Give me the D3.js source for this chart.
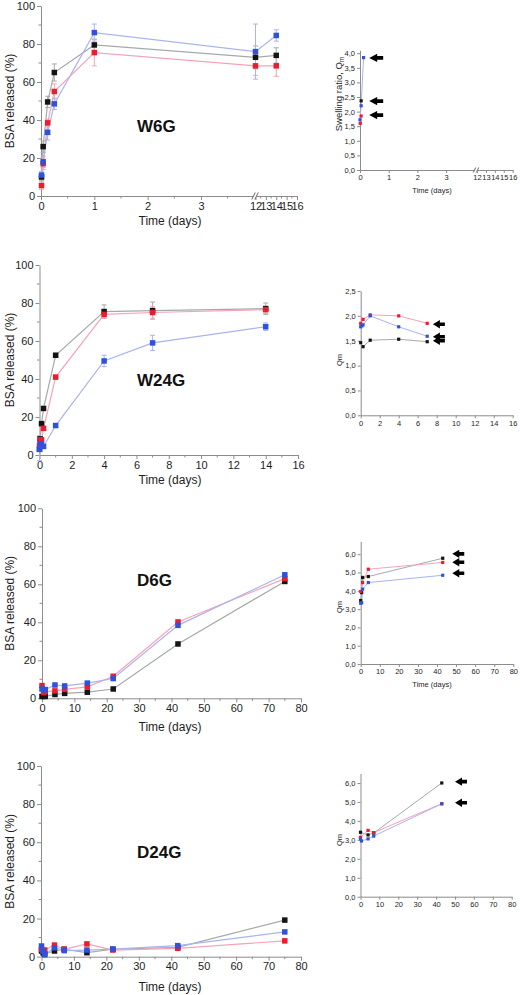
<!DOCTYPE html>
<html><head><meta charset="utf-8">
<script src="https://cdn.jsdelivr.net/npm/d3@7"></script>
<style>body{margin:0;background:#fff}svg{display:block}</style>
</head><body><svg id="c" width="520" height="995"></svg>
<script>
// ---------- DATA ----------
const seriesNames = ["black", "red", "blue"];
const markColors = ["#141414", "#ec1c2e", "#2f52de"];
const lineColors = ["#a3aba7", "#f7a3b6", "#aab3f0"];

const releaseTicks = [0, 20, 40, 60, 80, 100];
const releaseMinor = [10, 30, 50, 70, 90];

// W6G release
const w6gTime = [0.01, 0.04, 0.125, 0.25, 1, 12, 14];
const w6gBlack = [10, 26, 49.5, 65, 79.5, 73, 74];
const w6gRed = [5.5, 17, 38.5, 55, 75.5, 68.5, 68.5];
const w6gBlue = [11, 18, 33.5, 48.5, 86, 76, 84.5];
const w6gBlackErr = [2, 3, 3, 4.5, 3, 6, 4];
const w6gRedErr = [2, 3, 2, 4, 7, 5, 5.5];
const w6gBlueErr = [2, 3, 4, 3, 4.5, 14.5, 3];
const w6gTicksA = [0, 1, 2, 3];
const w6gTicksB = [12, 13, 14, 15, 16];

// W24G release
const w24gTime = [0, 0.04, 0.125, 0.25, 1, 4, 7, 14];
const w24gBlack = [3, 8.5, 16.5, 24.5, 52.5, 75.5, 76, 77];
const w24gRed = [5, 8, 8, 14, 41, 74, 75, 76.5];
const w24gBlue = [3, 6, 5.5, 4.5, 15.5, 49.5, 59, 67.5];
const w24gBlackErr = [0, 0, 0, 0, 1, 3.5, 4.5, 3];
const w24gRedErr = [0, 0, 0, 0, 1, 2, 3, 2];
const w24gBlueErr = [6, 0, 0, 0, 1, 3, 4, 2];
const w24gTicks = [0, 2, 4, 6, 8, 10, 12, 14, 16];

// D6G release
const d6gTime = [0, 0.5, 1, 4, 7, 14, 22, 42, 75];
const d6gBlack = [1, 1, 1, 2, 2.6, 3.2, 4.9, 28.6, 61.5];
const d6gRed = [6.7, 3, 3.5, 3.9, 4.7, 6, 11.6, 40.2, 63];
const d6gBlue = [4.9, 4.5, 4.6, 7, 6.5, 8, 10.4, 38.4, 65];

// D24G release
const d24gTime = [0, 0.5, 1, 4, 7, 14, 22, 42, 75];
const d24gBlack = [3, 2, 1.5, 3, 3.9, 2.1, 3.9, 4.9, 19.2];
const d24gRed = [4, 3, 3.5, 6.1, 3.9, 6.7, 3.5, 4.4, 8.3];
const d24gBlue = [5.6, 3, 1, 4.7, 3.2, 3.5, 4, 5.8, 13];
const longTicks = [0, 10, 20, 30, 40, 50, 60, 70, 80];

// Swelling insets
const q1BlackT = [0.04], q1Black = [2.37];
const q1RedT = [0.01, 0.04], q1Red = [1.6, 1.85];
const q1BlueT = [0, 0.04, 0.125], q1Blue = [1.72, 2.2, 3.85];
const q1ArrowT = [0.32, 0.32, 0.32], q1ArrowV = [3.84, 2.36, 1.88];
const q1TicksY = [0, 0.5, 1, 1.5, 2, 2.5, 3, 3.5, 4];

const q2BlackT = [0, 0.25, 1, 4, 7], q2Black = [1.46, 1.38, 1.51, 1.53, 1.48];
const q2RedT = [0, 0.25, 1, 4, 7], q2Red = [1.85, 1.93, 2.02, 2.0, 1.85];
const q2BlueT = [0, 0.125, 0.25, 1, 4, 7], q2Blue = [1.78, 1.8, 1.82, 2.0, 1.78, 1.59];
const q2ArrowT = [7.6, 7.6, 7.6], q2ArrowV = [1.83, 1.58, 1.5];
const q2TicksY = [0, 0.5, 1, 1.5, 2, 2.5];

const q3BlackT = [0, 0.5, 1, 4, 43], q3Black = [3.47, 3.9, 4.73, 4.78, 5.78];
const q3RedT = [0, 1, 4, 43], q3Red = [3.96, 4.45, 5.18, 5.55];
const q3BlueT = [0, 0.5, 1, 4, 43], q3Blue = [3.32, 3.35, 4.09, 4.45, 4.85];
const q3ArrowT = [48, 48, 48], q3ArrowV = [6.02, 5.56, 4.96];

const q4BlackT = [0, 4, 7, 43], q4Black = [3.4, 3.26, 3.36, 6.0];
const q4RedT = [0, 4, 7, 43], q4Red = [3.13, 3.5, 3.38, 4.91];
const q4BlueT = [0, 0.5, 4, 7, 43], q4Blue = [3.06, 2.94, 3.05, 3.2, 4.9];
const q4ArrowT = [50, 50], q4ArrowV = [6.07, 4.96];
const q34TicksY = [0, 1, 2, 3, 4, 5, 6];

// ---------- DRAWING ----------
const FONT = "'Liberation Sans', Arial, sans-serif";
const axisColor = "#8c8c8c";
const textColor = "#1e1e1e";
const svg = d3.select("#c");
const commaFmt = d => d3.format(".1f")(d).replace(".", ",");

function styleAxis(sel, fs) {
  sel.attr("font-family", FONT).attr("font-size", fs);
  sel.select(".domain").attr("stroke", axisColor).attr("stroke-width", 1);
  sel.selectAll(".tick line").attr("stroke", axisColor);
  sel.selectAll(".tick text").attr("fill", textColor);
}

function buildSeries(times, vals, errs) {
  return times.map((t, i) => ({ t, v: vals[i], e: errs ? errs[i] : 0 }));
}

function drawSeries(g, x, y, list, opt) {
  const line = d3.line().x(d => x(d.t)).y(d => y(d.v));
  list.forEach((s, i) => {
    g.append("path").datum(s).attr("d", line).attr("fill", "none")
      .attr("stroke", lineColors[i]).attr("stroke-width", opt.lw);
  });
  list.forEach((s, i) => {
    const eb = s.filter(d => d.e > 0);
    const ge = g.append("g").attr("stroke", lineColors[i]).attr("stroke-width", 1);
    ge.selectAll("line.v").data(eb).join("line").attr("class", "v")
      .attr("x1", d => x(d.t)).attr("x2", d => x(d.t))
      .attr("y1", d => y(d.v - d.e)).attr("y2", d => y(d.v + d.e));
    ge.selectAll("line.t").data(eb).join("line").attr("class", "t")
      .attr("x1", d => x(d.t) - 2.5).attr("x2", d => x(d.t) + 2.5)
      .attr("y1", d => y(d.v + d.e)).attr("y2", d => y(d.v + d.e));
    ge.selectAll("line.b").data(eb).join("line").attr("class", "b")
      .attr("x1", d => x(d.t) - 2.5).attr("x2", d => x(d.t) + 2.5)
      .attr("y1", d => y(d.v - d.e)).attr("y2", d => y(d.v - d.e));
  });
  list.forEach((s, i) => {
    g.append("g").selectAll("rect").data(s).join("rect")
      .attr("x", d => x(d.t) - opt.ms / 2).attr("y", d => y(d.v) - opt.ms / 2)
      .attr("width", opt.ms).attr("height", opt.ms).attr("fill", markColors[i]);
  });
}

function drawBreak(g, bx, by, h) {
  g.append("rect").attr("x", bx - 1.5).attr("y", by - 2).attr("width", 3).attr("height", 4).attr("fill", "#fff");
  [-1.5, 1.5].forEach(dx => {
    g.append("line").attr("x1", bx + dx - h * 0.5).attr("y1", by + h).attr("x2", bx + dx + h * 0.5).attr("y2", by - h)
      .attr("stroke", "#555").attr("stroke-width", 0.9);
  });
}

function drawMain(c) {
  const g = svg.append("g");
  const y = d3.scaleLinear().domain([0, 100]).range([c.y0, c.y1]);
  const ya = g.append("g").attr("transform", `translate(${c.left},0)`)
    .call(d3.axisLeft(y).tickValues(releaseTicks).tickSize(4).tickSizeOuter(0).tickPadding(2));
  styleAxis(ya, 11);
  g.append("g").selectAll("line").data(releaseMinor).join("line")
    .attr("x1", c.left - 2.5).attr("x2", c.left).attr("y1", d => y(d)).attr("y2", d => y(d))
    .attr("stroke", axisColor);
  c.segs.forEach(s => {
    const xa = g.append("g").attr("transform", `translate(0,${c.y0})`)
      .call(d3.axisBottom(s.scale).tickValues(s.ticks).tickSize(4).tickSizeOuter(0).tickPadding(2).tickFormat(d3.format("d")));
    styleAxis(xa, 11);
    g.append("g").selectAll("line").data(s.minor).join("line")
      .attr("x1", d => s.scale(d)).attr("x2", d => s.scale(d)).attr("y1", c.y0).attr("y2", c.y0 + 2.5)
      .attr("stroke", axisColor);
  });
  if (c.breakX) drawBreak(g, c.breakX, c.y0, 3.5);
  g.append("text").attr("transform", `translate(13.5,${(c.y0 + c.y1) / 2}) rotate(-90)`)
    .attr("text-anchor", "middle").attr("font-family", FONT).attr("font-size", 12).attr("fill", textColor)
    .text("BSA released (%)");
  g.append("text").attr("x", 170).attr("y", c.y0 + c.titleDy).attr("text-anchor", "middle")
    .attr("font-family", FONT).attr("font-size", 12).attr("fill", textColor).text("Time (days)");
  g.append("text").attr("x", 137).attr("y", c.labelY).attr("font-family", FONT).attr("font-weight", "bold")
    .attr("font-size", 17).attr("fill", "#111").text(c.label);
  drawSeries(g, c.x, y, c.series, { lw: 1.2, ms: 5.5 });
}

function arrowPath(tip, yy, big) {
  const hw = big ? 8 : 7, hh = 4.2, sl = big ? 14 : 12, sh = 1.8;
  return `M${tip},${yy}L${tip + hw},${yy - hh}L${tip + hw},${yy - sh}L${tip + sl},${yy - sh}L${tip + sl},${yy + sh}L${tip + hw},${yy + sh}L${tip + hw},${yy + hh}Z`;
}

function drawInset(c) {
  const g = svg.append("g");
  const y = d3.scaleLinear().domain(c.yDomain).range([c.y0, c.y1]);
  const ya = g.append("g").attr("transform", `translate(${c.left},0)`)
    .call(d3.axisLeft(y).tickValues(c.yTicks).tickSize(3).tickSizeOuter(0).tickPadding(2).tickFormat(commaFmt));
  styleAxis(ya, 7.5);
  c.segs.forEach(s => {
    const xa = g.append("g").attr("transform", `translate(0,${c.y0})`)
      .call(d3.axisBottom(s.scale).tickValues(s.ticks).tickSize(3).tickSizeOuter(0).tickPadding(2).tickFormat(d3.format("d")));
    styleAxis(xa, 7.5);
  });
  if (c.breakX) drawBreak(g, c.breakX, c.y0, 2.5);
  const yl = g.append("text").attr("transform", `translate(${c.yLabelX},${c.yLabelY}) rotate(-90)`)
    .attr("text-anchor", "middle").attr("font-family", FONT).attr("font-size", c.yLabelFs).attr("fill", textColor);
  if (c.sub) {
    yl.append("tspan").text("Swelling ratio, Q");
    yl.append("tspan").attr("font-size", 6.5).attr("dy", 2).text("m");
  } else {
    yl.text("Qm");
  }
  if (c.xTitle) {
    g.append("text").attr("x", 432).attr("y", c.y0 + 23).attr("text-anchor", "middle")
      .attr("font-family", FONT).attr("font-size", 7.5).attr("fill", textColor).text("Time (days)");
  }
  drawSeries(g, c.x, y, c.series, { lw: 1, ms: 3.2 });
  g.append("g").selectAll("path").data(c.arrowT.map((t, i) => ({ t, v: c.arrowV[i] }))).join("path")
    .attr("d", d => arrowPath(c.x(d.t), y(d.v), c.big)).attr("fill", "#000");
}

// ---------- PANELS ----------
// W6G
const w6gA = d3.scaleLinear().domain([0, 4]).range([41, 254.3]);
const w6gB = d3.scaleLinear().domain([12, 16]).range([255.5, 297]);
drawMain({
  left: 41, y0: 196, y1: 6, titleDy: 29, labelY: 132, label: "W6G",
  x: t => (t <= 4 ? w6gA(t) : w6gB(t)),
  segs: [
    { scale: w6gA, ticks: w6gTicksA, minor: [0.5, 1.5, 2.5, 3.5] },
    { scale: w6gB, ticks: w6gTicksB, minor: [12.5, 13.5, 14.5, 15.5] }
  ],
  breakX: 255,
  series: [buildSeries(w6gTime, w6gBlack, w6gBlackErr), buildSeries(w6gTime, w6gRed, w6gRedErr), buildSeries(w6gTime, w6gBlue, w6gBlueErr)]
});

// W24G
const w24gX = d3.scaleLinear().domain([0, 16]).range([39.5, 298]);
drawMain({
  left: 39.5, y0: 455, y1: 265, titleDy: 29, labelY: 386, label: "W24G",
  x: w24gX,
  segs: [{ scale: w24gX, ticks: w24gTicks, minor: [1, 3, 5, 7, 9, 11, 13, 15] }],
  series: [buildSeries(w24gTime, w24gBlack, w24gBlackErr), buildSeries(w24gTime, w24gRed, w24gRedErr), buildSeries(w24gTime, w24gBlue, w24gBlueErr)]
});

// D6G
const d6gX = d3.scaleLinear().domain([0, 80]).range([42, 301]);
drawMain({
  left: 42, y0: 698.3, y1: 508.3, titleDy: 33, labelY: 586, label: "D6G",
  x: d6gX,
  segs: [{ scale: d6gX, ticks: longTicks, minor: [5, 15, 25, 35, 45, 55, 65, 75] }],
  series: [buildSeries(d6gTime, d6gBlack), buildSeries(d6gTime, d6gRed), buildSeries(d6gTime, d6gBlue)]
});

// D24G
const d24gX = d3.scaleLinear().domain([0, 80]).range([41.5, 301]);
drawMain({
  left: 41, y0: 956.7, y1: 766, titleDy: 34, labelY: 858, label: "D24G",
  x: d24gX,
  segs: [{ scale: d24gX, ticks: longTicks, minor: [5, 15, 25, 35, 45, 55, 65, 75] }],
  series: [buildSeries(d24gTime, d24gBlack), buildSeries(d24gTime, d24gRed), buildSeries(d24gTime, d24gBlue)]
});

// Inset 1
const q1A = d3.scaleLinear().domain([0, 4]).range([360, 474.8]);
const q1B = d3.scaleLinear().domain([12, 16]).range([477, 512.7]);
drawInset({
  left: 360, y0: 170, y1: 50.3, yDomain: [0, 4.1], yTicks: q1TicksY,
  x: t => (t <= 4 ? q1A(t) : q1B(t)),
  segs: [{ scale: q1A, ticks: [0, 1, 2, 3] }, { scale: q1B, ticks: [12, 13, 14, 15, 16] }],
  breakX: 476, sub: true, yLabelX: 342, yLabelY: 94, yLabelFs: 9.5, xTitle: true, big: true,
  series: [buildSeries(q1BlackT, q1Black), buildSeries(q1RedT, q1Red), buildSeries(q1BlueT, q1Blue)],
  arrowT: q1ArrowT, arrowV: q1ArrowV
});

// Inset 2
const q2X = d3.scaleLinear().domain([0, 16]).range([360.7, 512.7]);
drawInset({
  left: 360.7, y0: 415.3, y1: 291, yDomain: [0, 2.5], yTicks: q2TicksY,
  x: q2X, segs: [{ scale: q2X, ticks: w24gTicks }],
  yLabelX: 342, yLabelY: 360, yLabelFs: 7.5,
  series: [buildSeries(q2BlackT, q2Black), buildSeries(q2RedT, q2Red), buildSeries(q2BlueT, q2Blue)],
  arrowT: q2ArrowT, arrowV: q2ArrowV
});

// Inset 3
const q3X = d3.scaleLinear().domain([0, 80]).range([360.7, 513.3]);
drawInset({
  left: 360.7, y0: 664, y1: 541.4, yDomain: [0, 6.7], yTicks: q34TicksY,
  x: q3X, segs: [{ scale: q3X, ticks: longTicks }],
  yLabelX: 342, yLabelY: 607, yLabelFs: 7.5, xTitle: true,
  series: [buildSeries(q3BlackT, q3Black), buildSeries(q3RedT, q3Red), buildSeries(q3BlueT, q3Blue)],
  arrowT: q3ArrowT, arrowV: q3ArrowV
});

// Inset 4
const q4X = d3.scaleLinear().domain([0, 80]).range([360.5, 511.7]);
drawInset({
  left: 360.5, y0: 896.7, y1: 773.5, yDomain: [0, 6.5], yTicks: q34TicksY,
  x: q4X, segs: [{ scale: q4X, ticks: longTicks }],
  yLabelX: 342, yLabelY: 840, yLabelFs: 7.5,
  series: [buildSeries(q4BlackT, q4Black), buildSeries(q4RedT, q4Red), buildSeries(q4BlueT, q4Blue)],
  arrowT: q4ArrowT, arrowV: q4ArrowV
});
</script></body></html>
